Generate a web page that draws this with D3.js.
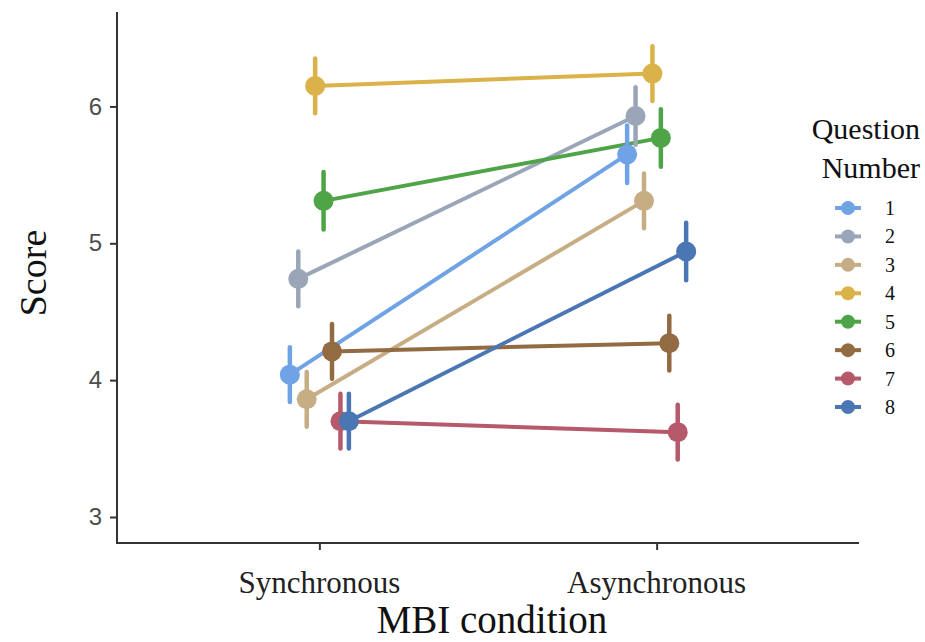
<!DOCTYPE html>
<html>
<head>
<meta charset="utf-8">
<script src="https://cdn.jsdelivr.net/npm/d3@7"></script>
<style>
  html, body { margin: 0; padding: 0; background: #fff; }
  svg { display: block; }
</style>
</head>
<body>
<svg id="chart" width="925" height="642"></svg>
<script>
// ---- data ----
const conditions = ["Synchronous", "Asynchronous"];
const questions = ["1", "2", "3", "4", "5", "6", "7", "8"];
const colors = ["#6fa3e6", "#9aa6b8", "#c7ad83", "#dbb24a", "#4ea447", "#936b43", "#b5596b", "#4a77b4"];

// mean score per question: [Synchronous, Asynchronous]
const syncMeans  = [4.04, 4.74, 3.86, 6.15, 5.31, 4.21, 3.70, 3.70];
const asyncMeans = [5.65, 5.93, 5.31, 6.24, 5.77, 4.27, 3.62, 4.94];
// half-length of the error bars
const syncErr  = [0.20, 0.20, 0.20, 0.20, 0.21, 0.20, 0.20, 0.20];
const asyncErr = [0.21, 0.21, 0.20, 0.20, 0.21, 0.20, 0.20, 0.21];

const yTicks = [3, 4, 5, 6];

// ---- layout ----
const svg = d3.select("#chart");
const plot = { left: 117, right: 859, top: 12, bottom: 543 };

const x = d3.scalePoint()
  .domain(conditions)
  .range([plot.left, plot.right])
  .padding(0.6);

const y = d3.scaleLinear()
  .domain([2.81, 6.69])
  .range([plot.bottom, plot.top]);

// dodge: total width 0.2 of a category step, split among 8 questions
const dodge = d3.scaleBand()
  .domain(questions)
  .range([-x.step() * 0.1, x.step() * 0.1]);
const dx = (q) => dodge(q) + dodge.bandwidth() / 2;

const series = questions.map((q, i) => ({
  q,
  color: colors[i],
  pts: [
    { cond: conditions[0], mean: syncMeans[i], err: syncErr[i] },
    { cond: conditions[1], mean: asyncMeans[i], err: asyncErr[i] },
  ],
}));

const px = (s, p) => x(p.cond) + dx(s.q);

// ---- lines ----
const line = d3.line()
  .x((d) => d[0])
  .y((d) => d[1]);

svg.append("g")
  .selectAll("path")
  .data(series)
  .join("path")
  .attr("fill", "none")
  .attr("stroke", (s) => s.color)
  .attr("stroke-width", 4)
  .attr("d", (s) => line(s.pts.map((p) => [px(s, p), y(p.mean)])));

// ---- point ranges ----
const pr = svg.append("g")
  .selectAll("g")
  .data(series)
  .join("g");

pr.selectAll("line")
  .data((s) => s.pts.map((p) => ({ s, p })))
  .join("line")
  .attr("x1", (d) => px(d.s, d.p))
  .attr("x2", (d) => px(d.s, d.p))
  .attr("y1", (d) => y(d.p.mean - d.p.err))
  .attr("y2", (d) => y(d.p.mean + d.p.err))
  .attr("stroke", (d) => d.s.color)
  .attr("stroke-width", 4.5)
  .attr("stroke-linecap", "round");

pr.selectAll("circle")
  .data((s) => s.pts.map((p) => ({ s, p })))
  .join("circle")
  .attr("cx", (d) => px(d.s, d.p))
  .attr("cy", (d) => y(d.p.mean))
  .attr("r", 10)
  .attr("fill", (d) => d.s.color);

// ---- axes ----
const axisColor = "#333333";

const gy = svg.append("g")
  .attr("transform", `translate(${plot.left},0)`)
  .call(d3.axisLeft(y).tickValues(yTicks).tickSize(7).tickPadding(8).tickFormat(d3.format("d")));
gy.select(".domain").remove();
gy.selectAll(".tick line").attr("stroke", axisColor).attr("stroke-width", 2);
gy.selectAll(".tick text")
  .attr("fill", "#4d4d4d")
  .attr("font-family", "Liberation Sans, Arial, sans-serif")
  .attr("font-size", 24);

const gx = svg.append("g")
  .attr("transform", `translate(0,${plot.bottom})`)
  .call(d3.axisBottom(x).tickSize(7).tickPadding(0).tickFormat(() => ""));
gx.select(".domain").remove();
gx.selectAll(".tick line").attr("stroke", axisColor).attr("stroke-width", 2);

// axis lines
svg.append("line")
  .attr("x1", plot.left).attr("x2", plot.left)
  .attr("y1", plot.top).attr("y2", plot.bottom + 1)
  .attr("stroke", axisColor).attr("stroke-width", 2);
svg.append("line")
  .attr("x1", plot.left - 1).attr("x2", plot.right)
  .attr("y1", plot.bottom).attr("y2", plot.bottom)
  .attr("stroke", axisColor).attr("stroke-width", 2);

// x tick labels
svg.append("g")
  .selectAll("text")
  .data(conditions)
  .join("text")
  .attr("x", (d) => x(d))
  .attr("y", 593)
  .attr("text-anchor", "middle")
  .attr("font-family", "Liberation Serif, Times New Roman, serif")
  .attr("font-size", 31)
  .attr("fill", "#222")
  .text((d) => d);

// axis titles
svg.append("text")
  .attr("x", 492)
  .attr("y", 633)
  .attr("text-anchor", "middle")
  .attr("font-family", "Liberation Serif, Times New Roman, serif")
  .attr("font-size", 39)
  .attr("fill", "#111")
  .text("MBI condition");

svg.append("text")
  .attr("transform", "translate(46,273) rotate(-90)")
  .attr("text-anchor", "middle")
  .attr("font-family", "Liberation Serif, Times New Roman, serif")
  .attr("font-size", 38)
  .attr("fill", "#111")
  .text("Score");

// ---- legend ----
const legend = svg.append("g");

legend.append("text")
  .attr("x", 920).attr("y", 139)
  .attr("text-anchor", "end")
  .attr("font-family", "Liberation Serif, Times New Roman, serif")
  .attr("font-size", 30)
  .attr("fill", "#111")
  .text("Question");
legend.append("text")
  .attr("x", 920).attr("y", 178)
  .attr("text-anchor", "end")
  .attr("font-family", "Liberation Serif, Times New Roman, serif")
  .attr("font-size", 30)
  .attr("fill", "#111")
  .text("Number");

const ly = d3.scalePoint().domain(questions).range([208, 407]);

const items = legend.selectAll("g.item")
  .data(series)
  .join("g")
  .attr("class", "item")
  .attr("transform", (s) => `translate(848,${ly(s.q)})`);

items.append("line")
  .attr("x1", -13).attr("x2", 13)
  .attr("stroke", (s) => s.color)
  .attr("stroke-width", 4);
items.append("circle")
  .attr("r", 7)
  .attr("fill", (s) => s.color);
items.append("text")
  .attr("x", 37)
  .attr("y", 7)
  .attr("font-family", "Liberation Serif, Times New Roman, serif")
  .attr("font-size", 20)
  .attr("fill", "#111")
  .text((s) => s.q);
</script>
</body>
</html>
